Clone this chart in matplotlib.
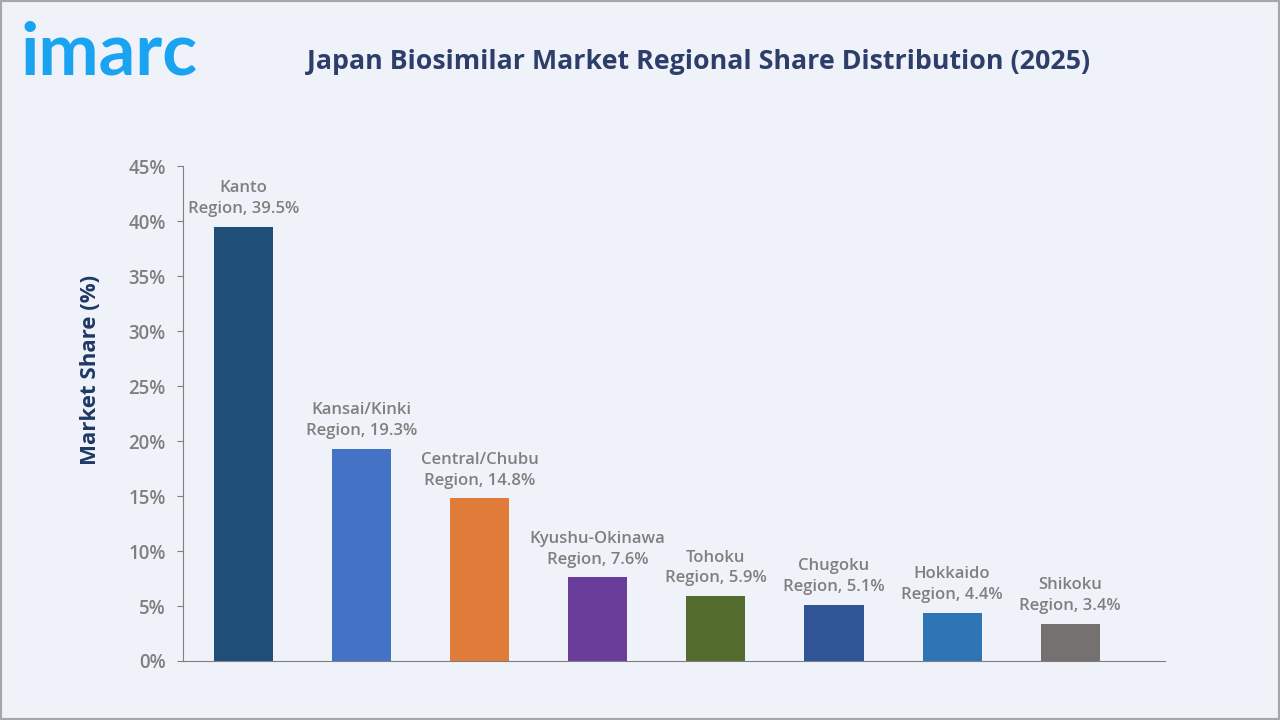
import matplotlib.pyplot as plt
import matplotlib.patches as patches

# data
regions = ['Kanto', 'Kansai/Kinki', 'Central/Chubu', 'Kyushu-Okinawa',
           'Tohoku', 'Chugoku', 'Hokkaido', 'Shikoku']
share = [39.5, 19.3, 14.8, 7.6, 5.9, 5.1, 4.4, 3.4]
colors = ['#1f4e79', '#4472c4', '#e07b39', '#6a3d9a',
          '#546b2e', '#2f5597', '#2e75b6', '#767171']
yticks = [0, 5, 10, 15, 20, 25, 30, 35, 40, 45]

plt.rcParams['font.family'] = ['Open Sans', 'DejaVu Sans']
bg = '#eff3f9'
gray = '#7f7f7f'

fig = plt.figure(figsize=(12.8, 7.2), dpi=100, facecolor=bg)
ax = fig.add_axes([0.143, 0.082, 0.767, 0.687])
ax.set_facecolor(bg)

x = list(range(len(regions)))
ax.bar(x, share, width=0.5, color=colors, zorder=2)

for i in x:
    ax.annotate(regions[i] + '\nRegion, ' + f'{share[i]}%', (i, share[i]),
                xytext=(0, 7), textcoords='offset points', ha='center', va='bottom',
                fontsize=12, color=gray, fontweight='semibold', linespacing=1.4)

ax.set_xlim(-0.51, 7.8)
ax.set_ylim(0, 45)
ax.set_yticks(yticks)
ax.set_yticklabels([f'{t}%' for t in yticks])
ax.set_xticks([])
ax.tick_params(axis='y', length=4.5, color=gray, labelsize=13.4, labelcolor=gray, pad=8)
for lbl in ax.get_yticklabels():
    lbl.set_fontweight('semibold')
for s in ['top', 'right']:
    ax.spines[s].set_visible(False)
ax.spines['left'].set_color(gray)
ax.spines['bottom'].set_color(gray)
ax.set_ylabel('Market Share (%)', fontsize=16, fontweight='bold', color='#1f3864')
ax.yaxis.set_label_coords(-0.084, 0.588)

fig.text(0.546, 0.914, 'Japan Biosimilar Market Regional Share Distribution (2025)',
         ha='center', va='center', fontsize=19.3, fontweight='bold', color='#2d3e6b')
fig.text(0.016, 0.896, 'imarc', ha='left', va='baseline', fontsize=52,
         fontweight='bold', color='#1aa3f0', family=['Lato', 'DejaVu Sans'])

# outer frame
fig.patches.append(patches.Rectangle((0, 0), 1, 1, transform=fig.transFigure,
                                     fill=False, edgecolor='#a6a6a6', linewidth=3))

fig.savefig('out.png', dpi=100, facecolor=bg)
